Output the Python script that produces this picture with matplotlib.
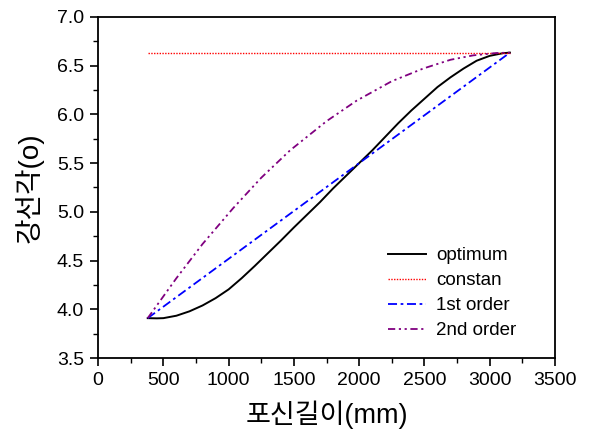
import matplotlib
matplotlib.use("Agg")
import matplotlib.pyplot as plt
from matplotlib.ticker import MultipleLocator, FormatStrFormatter

plt.rcParams['font.family'] = ['Liberation Sans', 'Noto Sans CJK KR', 'DejaVu Sans']

# optimum curve
opt_x = [380, 450, 500, 600, 700, 800, 900, 1000, 1100, 1200, 1300, 1400, 1500, 1600,
         1700, 1800, 1900, 2000, 2100, 2200, 2300, 2400, 2500, 2600, 2700, 2800,
         2900, 3000, 3100, 3155]
opt_y = [3.91, 3.908, 3.91, 3.935, 3.98, 4.04, 4.115, 4.205, 4.32, 4.445, 4.575, 4.705, 4.84, 4.97,
         5.10, 5.24, 5.37, 5.50, 5.63, 5.77, 5.91, 6.04, 6.16, 6.28, 6.38, 6.47,
         6.55, 6.60, 6.627, 6.633]

# constant angle
const_x = [380, 3155]
const_y = [6.633, 6.633]

# 1st order (straight line)
first_x = [380, 3155]
first_y = [3.91, 6.633]

# 2nd order (parabola)
second_x = [380, 600, 800, 1036, 1250, 1470, 1750, 1980, 2250, 2491, 2700, 2874, 3050, 3155]
second_y = [3.91, 4.32, 4.67, 5.04, 5.35, 5.63, 5.93, 6.14, 6.34, 6.47, 6.56, 6.605, 6.629, 6.633]

fig = plt.figure(figsize=(5.91, 4.32), dpi=100)
ax = fig.add_axes([0.166, 0.171, 0.773, 0.790])

ax.plot(opt_x, opt_y, color='black', lw=1.4, label='optimum')
ax.plot(const_x, const_y, color='#FF0000', lw=1.0, dashes=(1, 1), label='constan')
ax.plot(first_x, first_y, color='#0000FF', lw=1.3, dashes=(5, 2, 1.5, 2), label='1st order')
ax.plot(second_x, second_y, color='#800080', lw=1.3,
        dashes=(4, 2, 1.2, 2, 1.2, 2), label='2nd order')

ax.set_xlim(0, 3500)
ax.set_ylim(3.5, 7.0)
ax.xaxis.set_major_locator(MultipleLocator(500))
ax.xaxis.set_minor_locator(MultipleLocator(250))
ax.yaxis.set_major_locator(MultipleLocator(0.5))
ax.yaxis.set_minor_locator(MultipleLocator(0.25))
ax.yaxis.set_major_formatter(FormatStrFormatter('%.1f'))

ax.tick_params(which='both', direction='out', top=False, right=False, labelsize=14)
ax.tick_params(which='major', length=6, width=1.2, pad=4)
ax.tick_params(which='minor', length=3.5, width=1.0)
for sp in ax.spines.values():
    sp.set_linewidth(1.3)

ax.set_xlabel('포신길이(mm)', fontsize=19.5, labelpad=8)
ax.set_ylabel('강선각(o)', fontsize=20, labelpad=10)

ax.legend(loc='upper left', bbox_to_anchor=(0.635, 0.325), frameon=False, fontsize=13.5,
          handlelength=2.0, handletextpad=0.55, labelspacing=0.42, borderpad=0,
          borderaxespad=0)

plt.savefig('out.png', dpi=100)
plt.close()
